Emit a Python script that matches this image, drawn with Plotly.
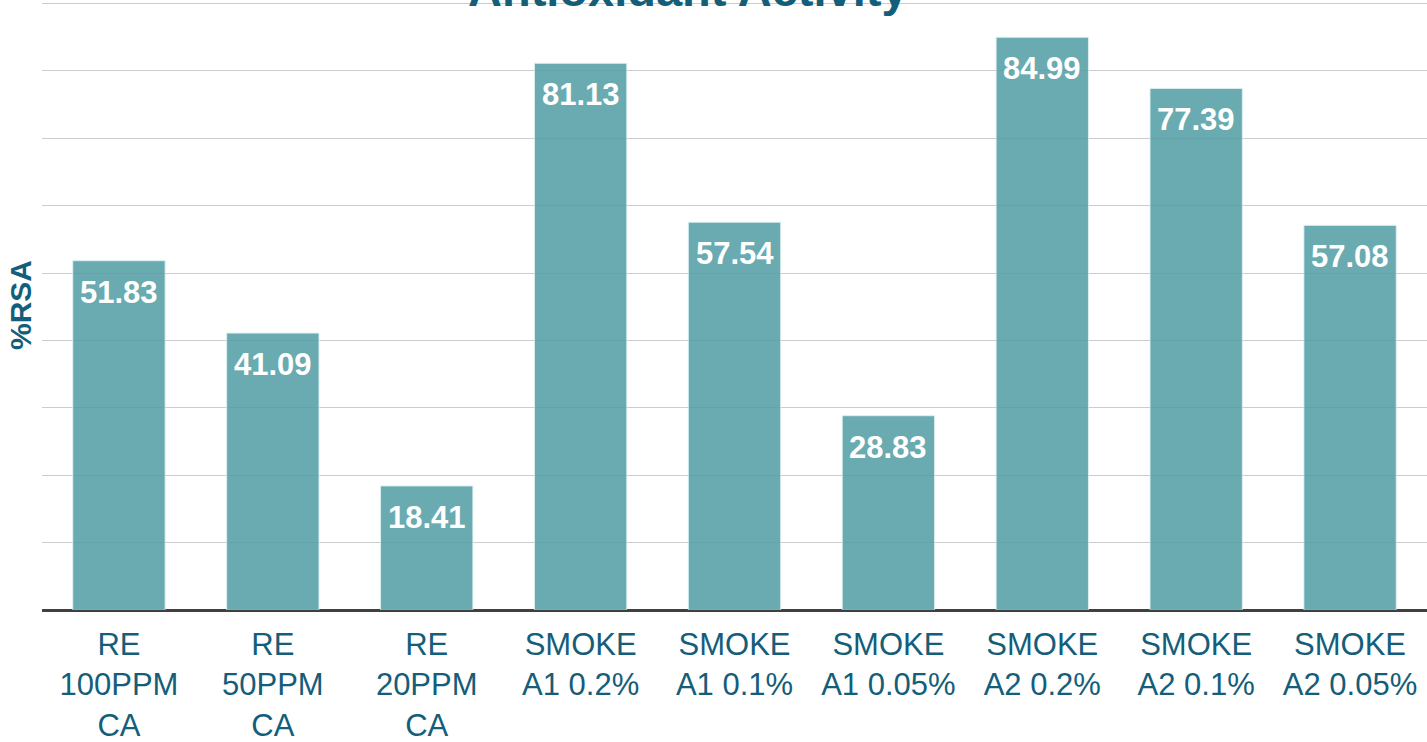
import plotly.graph_objects as go

categories = [
    "RE<br>100PPM<br>CA",
    "RE<br>50PPM<br>CA",
    "RE<br>20PPM<br>CA",
    "SMOKE<br>A1 0.2%",
    "SMOKE<br>A1 0.1%",
    "SMOKE<br>A1 0.05%",
    "SMOKE<br>A2 0.2%",
    "SMOKE<br>A2 0.1%",
    "SMOKE<br>A2 0.05%",
]
rsa_values = [51.83, 41.09, 18.41, 81.13, 57.54, 28.83, 84.99, 77.39, 57.08]
grid_values = [10, 20, 30, 40, 50, 60, 70, 80, 90]

FONT = "Liberation Sans, Arial, sans-serif"
TEAL_TEXT = "#145e7a"

x_pos = list(range(len(categories)))

fig = go.Figure()
fig.add_trace(
    go.Bar(
        x=x_pos,
        y=rsa_values,
        width=0.6,
        marker=dict(color="#509da4", opacity=0.85,
                    line=dict(color="rgba(215,238,240,0.9)", width=1)),
        hoverinfo="x+y",
    )
)

# value labels just below each bar top
value_labels = [
    dict(
        text=f"<b>{v:.2f}</b>",
        x=xi, y=v, xref="x", yref="y",
        xanchor="center", yanchor="top",
        yshift=-12,
        showarrow=False,
        font=dict(family=FONT, size=31, color="white"),
    )
    for xi, v in zip(x_pos, rsa_values)
]

fig.update_layout(
    width=1427,
    height=742,
    margin=dict(l=42, r=0, t=0, b=132, autoexpand=False),
    paper_bgcolor="white",
    plot_bgcolor="white",
    showlegend=False,
    bargap=0.4,
    font=dict(family=FONT),
    xaxis=dict(
        tickmode="array",
        tickvals=x_pos,
        ticktext=categories,
        range=[-0.5, len(categories) - 0.5],
        showgrid=False,
        showline=False,
        ticks="",
        tickfont=dict(family=FONT, size=31, color=TEAL_TEXT),
        ticklabelstandoff=13,
        automargin=False,
        zeroline=False,
    ),
    yaxis=dict(
        range=[0, 90.52],
        tickmode="array",
        tickvals=grid_values,
        showticklabels=False,
        showgrid=True,
        gridcolor="#cdcdcd",
        gridwidth=1.2,
        zeroline=True,
        zerolinecolor="#404040",
        zerolinewidth=3,
        showline=False,
        ticks="",
        automargin=False,
    ),
    annotations=value_labels + [
        dict(
            text="<b>Antioxidant Activity</b>",
            xref="paper", yref="paper",
            x=(688 - 42) / 1385, y=1,
            xanchor="center", yanchor="bottom",
            yshift=-18,
            showarrow=False,
            font=dict(family=FONT, size=47, color=TEAL_TEXT),
        ),
        dict(
            text="<b>%RSA</b>",
            xref="paper", yref="paper",
            x=(20 - 42) / 1385, y=0.5,
            xanchor="center", yanchor="middle",
            textangle=-90,
            showarrow=False,
            font=dict(family=FONT, size=30, color=TEAL_TEXT),
        ),
    ],
)

fig.write_html("out.html")
